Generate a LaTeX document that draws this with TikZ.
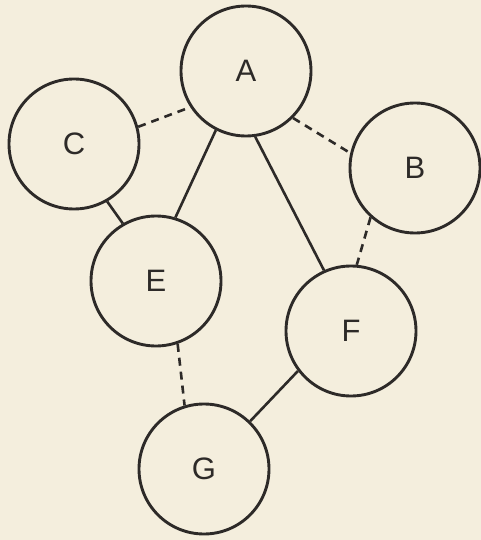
\documentclass[tikz,border=0pt]{standalone}
\usepackage{fontspec}
\setmainfont{Liberation Sans}
\definecolor{paper}{RGB}{244,238,221}
\definecolor{ink}{RGB}{45,42,40}
\tikzset{
  vert/.style={draw=ink,circle,line width=2.9pt,minimum size=130pt,inner sep=0pt,
    text=ink,font=\fontsize{31}{31}\selectfont},
  solidedge/.style={draw=ink,line width=2.6pt},
  dashedge/.style={draw=ink,line width=2.6pt,dash pattern=on 8pt off 6pt}
}
\begin{document}
\begin{tikzpicture}[x=1pt,y=-1pt]
\useasboundingbox (0,0) rectangle (481,540);
\fill[paper] (0,0) rectangle (481,540);

\node[vert] (A) at (246,71) {A};
\node[vert] (C) at (74,144) {C};
\node[vert] (B) at (415,168) {B};
\node[vert] (E) at (156,281) {E};
\node[vert] (F) at (351,331) {F};
\node[vert] (G) at (204,469) {G};

\path[dashedge] (C.15) -- (A.213);
\path[dashedge] (A.315) -- (B.167);
\path[solidedge] (A.243) -- (E.73);
\path[solidedge] (A.278) -- (F.114);
\path[solidedge] (C.300) -- (E.120);
\path[dashedge] (B.228) -- (F.85);
\path[dashedge] (E.289) -- (G.107);
\path[solidedge] (F.217) -- (G.46);
\end{tikzpicture}
\end{document}
